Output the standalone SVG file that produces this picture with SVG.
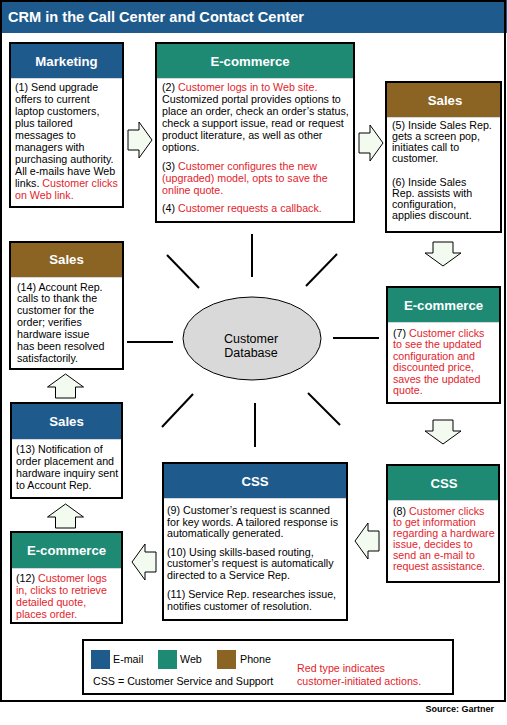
<svg xmlns="http://www.w3.org/2000/svg" xmlns:xlink="http://www.w3.org/1999/xlink" width="507" height="725" viewBox="0 0 507 725">
<style>
text{font-family:"Liberation Sans",Arial,sans-serif;fill:#000}
.t{font-size:14.6px;font-weight:bold;fill:#fff}
.h{font-size:13.2px;font-weight:bold;fill:#fff;text-anchor:middle}
.b{font-size:10.7px}
.r{fill:#e3242b}
.brd{fill:none;stroke:#000;stroke-width:2}
.body{fill:#fff}
.email{fill:#1f5a8c}
.web{fill:#1e8a74}
.phone{fill:#8b6322}
.sep{stroke:#d4d8dc;stroke-width:1}
.arr{fill:#f3fbf0;stroke:#000;stroke-width:1}
.sp{stroke:#000;stroke-width:2}
.src{font-size:9px;font-weight:bold}
</style>
<defs>
<path id="arrow" d="M0,-10 H11 V-18 L24,0 L11,18 V10 H0 Z"/>
</defs>
<rect x="0" y="0" width="507" height="725" fill="#fff"/>
<rect x="0" y="0" width="507" height="33" class="email"/>
<rect x="1" y="1" width="504" height="700" class="brd"/>
<text x="8" y="22" class="t">CRM in the Call Center and Contact Center</text>

<g id="connectors">
<line x1="252" y1="234" x2="252" y2="277" class="sp"/>
<line x1="167" y1="255" x2="199" y2="288" class="sp"/>
<line x1="337" y1="254" x2="306" y2="286" class="sp"/>
<line x1="127" y1="342" x2="173" y2="342" class="sp"/>
<line x1="333" y1="338" x2="379" y2="338" class="sp"/>
<line x1="193" y1="394" x2="162" y2="427" class="sp"/>
<line x1="308" y1="393" x2="340" y2="425" class="sp"/>
<line x1="255" y1="403" x2="255" y2="447" class="sp"/>
<use xlink:href="#arrow" class="arr" transform="translate(128,140)"/>
<use xlink:href="#arrow" class="arr" transform="translate(359,143)"/>
<use xlink:href="#arrow" class="arr" transform="translate(443,242) rotate(90)"/>
<use xlink:href="#arrow" class="arr" transform="translate(443,420) rotate(90)"/>
<use xlink:href="#arrow" class="arr" transform="translate(379,541) rotate(180)"/>
<use xlink:href="#arrow" class="arr" transform="translate(156,562) rotate(180)"/>
<use xlink:href="#arrow" class="arr" transform="translate(65.5,528) rotate(-90)"/>
<use xlink:href="#arrow" class="arr" transform="translate(65.5,398) rotate(-90)"/>
</g>

<g id="db">
<ellipse cx="252" cy="338.5" rx="69" ry="41.5" fill="#d9d9d9" stroke="#000" stroke-width="1"/>
<text x="251" y="342.5" font-size="12.5" text-anchor="middle">Customer</text>
<text x="251" y="356.5" font-size="12.5" text-anchor="middle">Database</text>
</g>

<g id="marketing">
<rect x="10" y="43" width="113" height="164" class="body"/>
<rect x="10" y="43" width="113" height="35" class="email"/>
<line x1="10" y1="78.5" x2="123" y2="78.5" class="sep"/>
<rect x="10" y="43" width="113" height="164" class="brd"/>
<text x="66.5" y="65.5" class="h">Marketing</text>
<text class="b" font-size="11" x="15">
<tspan x="15" y="91">(1) Send upgrade</tspan>
<tspan x="15" y="103">offers to current</tspan>
<tspan x="15" y="115">laptop customers,</tspan>
<tspan x="15" y="127">plus tailored</tspan>
<tspan x="15" y="139">messages to</tspan>
<tspan x="15" y="151">managers with</tspan>
<tspan x="15" y="163">purchasing authority.</tspan>
<tspan x="15" y="175">All e-mails have Web</tspan>
<tspan x="15" y="187">links. <tspan class="r">Customer clicks</tspan></tspan>
<tspan x="15" y="199" class="r">on Web link.</tspan>
</text>
</g>

<g id="ecommerce1">
<rect x="156" y="43" width="198" height="179" class="body"/>
<rect x="156" y="43" width="198" height="35" class="web"/>
<line x1="156" y1="78.5" x2="354" y2="78.5" class="sep"/>
<rect x="156" y="43" width="198" height="179" class="brd"/>
<text x="250" y="65.5" class="h">E-commerce</text>
<text class="b" font-size="10.4">
<tspan x="162" y="91">(2) <tspan class="r">Customer logs in to Web site.</tspan></tspan>
<tspan x="162" y="103">Customized portal provides options to</tspan>
<tspan x="162" y="115">place an order, check an order’s status,</tspan>
<tspan x="162" y="127">check a support issue, read or request</tspan>
<tspan x="162" y="139">product literature, as well as other</tspan>
<tspan x="162" y="151">options.</tspan>
<tspan x="162" y="170">(3) <tspan class="r">Customer configures the new</tspan></tspan>
<tspan x="162" y="182" class="r">(upgraded) model, opts to save the</tspan>
<tspan x="162" y="194" class="r">online quote.</tspan>
<tspan x="162" y="212">(4) <tspan class="r">Customer requests a callback.</tspan></tspan>
</text>
</g>

<g id="sales1">
<rect x="386" y="82" width="115" height="150" class="body"/>
<rect x="386" y="82" width="115" height="35" class="phone"/>
<line x1="386" y1="117.5" x2="501" y2="117.5" class="sep"/>
<rect x="386" y="82" width="115" height="150" class="brd"/>
<text x="445" y="104.5" class="h">Sales</text>
<text class="b" font-size="10.5">
<tspan x="392" y="129">(5) Inside Sales Rep.</tspan>
<tspan x="392" y="140">gets a screen pop,</tspan>
<tspan x="392" y="151">initiates call to</tspan>
<tspan x="392" y="162">customer.</tspan>
<tspan x="392" y="186">(6) Inside Sales</tspan>
<tspan x="392" y="197">Rep. assists with</tspan>
<tspan x="392" y="208">configuration,</tspan>
<tspan x="392" y="219">applies discount.</tspan>
</text>
</g>

<g id="ecommerce2">
<rect x="387" y="287" width="113" height="116" class="body"/>
<rect x="387" y="287" width="113" height="35" class="web"/>
<line x1="387" y1="322.5" x2="500" y2="322.5" class="sep"/>
<rect x="387" y="287" width="113" height="116" class="brd"/>
<text x="443.5" y="309.5" class="h">E-commerce</text>
<text class="b">
<tspan x="393" y="336.5">(7) <tspan class="r">Customer clicks</tspan></tspan>
<tspan x="393" y="348" class="r">to see the updated</tspan>
<tspan x="393" y="359.5" class="r">configuration and</tspan>
<tspan x="393" y="371" class="r">discounted price,</tspan>
<tspan x="393" y="382.5" class="r">saves the updated</tspan>
<tspan x="393" y="394" class="r">quote.</tspan>
</text>
</g>

<g id="css8">
<rect x="387" y="465" width="112" height="117" class="body"/>
<rect x="387" y="465" width="112" height="35" class="web"/>
<line x1="387" y1="500.5" x2="499" y2="500.5" class="sep"/>
<rect x="387" y="465" width="112" height="117" class="brd"/>
<text x="444" y="487.5" class="h">CSS</text>
<text class="b">
<tspan x="393" y="514.5">(8) <tspan class="r">Customer clicks</tspan></tspan>
<tspan x="393" y="525.5" class="r">to get information</tspan>
<tspan x="393" y="536.5" class="r">regarding a hardware</tspan>
<tspan x="393" y="547.5" class="r">issue, decides to</tspan>
<tspan x="393" y="558.5" class="r">send an e-mail to</tspan>
<tspan x="393" y="569.5" class="r">request assistance.</tspan>
</text>
</g>

<g id="css9">
<rect x="163" y="463" width="184" height="157" class="body"/>
<rect x="163" y="463" width="184" height="35" class="email"/>
<line x1="163" y1="498.5" x2="347" y2="498.5" class="sep"/>
<rect x="163" y="463" width="184" height="157" class="brd"/>
<text x="255" y="485.5" class="h">CSS</text>
<text class="b">
<tspan x="167" y="514">(9) Customer’s request is scanned</tspan>
<tspan x="167" y="525.5">for key words. A tailored response is</tspan>
<tspan x="167" y="537">automatically generated.</tspan>
<tspan x="167" y="555.5">(10) Using skills-based routing,</tspan>
<tspan x="167" y="567">customer’s request is automatically</tspan>
<tspan x="167" y="579">directed to a Service Rep.</tspan>
<tspan x="167" y="598">(11) Service Rep. researches issue,</tspan>
<tspan x="167" y="609.5">notifies  customer of resolution.</tspan>
</text>
</g>

<g id="ecommerce3">
<rect x="11" y="532" width="111" height="91" class="body"/>
<rect x="11" y="532" width="111" height="36" class="web"/>
<line x1="11" y1="568.5" x2="122" y2="568.5" class="sep"/>
<rect x="11" y="532" width="111" height="91" class="brd"/>
<text x="66.5" y="555" class="h">E-commerce</text>
<text class="b">
<tspan x="16" y="582">(12) <tspan class="r">Customer logs</tspan></tspan>
<tspan x="16" y="594" class="r">in, clicks to retrieve</tspan>
<tspan x="16" y="606" class="r">detailed quote,</tspan>
<tspan x="16" y="618" class="r">places order.</tspan>
</text>
</g>

<g id="sales13">
<rect x="11" y="403" width="111" height="95" class="body"/>
<rect x="11" y="403" width="111" height="36" class="email"/>
<line x1="11" y1="439.5" x2="122" y2="439.5" class="sep"/>
<rect x="11" y="403" width="111" height="95" class="brd"/>
<text x="66.5" y="426" class="h">Sales</text>
<text class="b">
<tspan x="16" y="453">(13) Notification of</tspan>
<tspan x="16" y="465">order placement and</tspan>
<tspan x="16" y="477">hardware inquiry sent</tspan>
<tspan x="16" y="489">to Account Rep.</tspan>
</text>
</g>

<g id="sales14">
<rect x="10" y="242" width="113" height="127" class="body"/>
<rect x="10" y="242" width="113" height="35" class="phone"/>
<line x1="10" y1="277.5" x2="123" y2="277.5" class="sep"/>
<rect x="10" y="242" width="113" height="127" class="brd"/>
<text x="66.5" y="264" class="h">Sales</text>
<text class="b">
<tspan x="17" y="290.5">(14) Account Rep.</tspan>
<tspan x="17" y="302">calls to thank the</tspan>
<tspan x="17" y="314">customer for the</tspan>
<tspan x="17" y="326">order; verifies</tspan>
<tspan x="17" y="338">hardware issue</tspan>
<tspan x="17" y="350">has been resolved</tspan>
<tspan x="17" y="362">satisfactorily.</tspan>
</text>
</g>

<g id="legend">
<rect x="83" y="640" width="370" height="54" fill="#fff" class="brd"/>
<rect x="91" y="650" width="19" height="19" class="email"/>
<text x="113" y="663" class="b">E-mail</text>
<rect x="158" y="650" width="19" height="19" class="web"/>
<text x="180" y="663" class="b">Web</text>
<rect x="217" y="650" width="19" height="19" class="phone"/>
<text x="240" y="663" class="b">Phone</text>
<text x="93" y="684.5" class="b">CSS = Customer Service and Support</text>
<text x="297" y="671.5" class="b r">Red type indicates</text>
<text x="297" y="684.5" class="b r">customer-initiated actions.</text>
</g>

<text x="494" y="712" class="src" text-anchor="end">Source: Gartner</text>
</svg>
